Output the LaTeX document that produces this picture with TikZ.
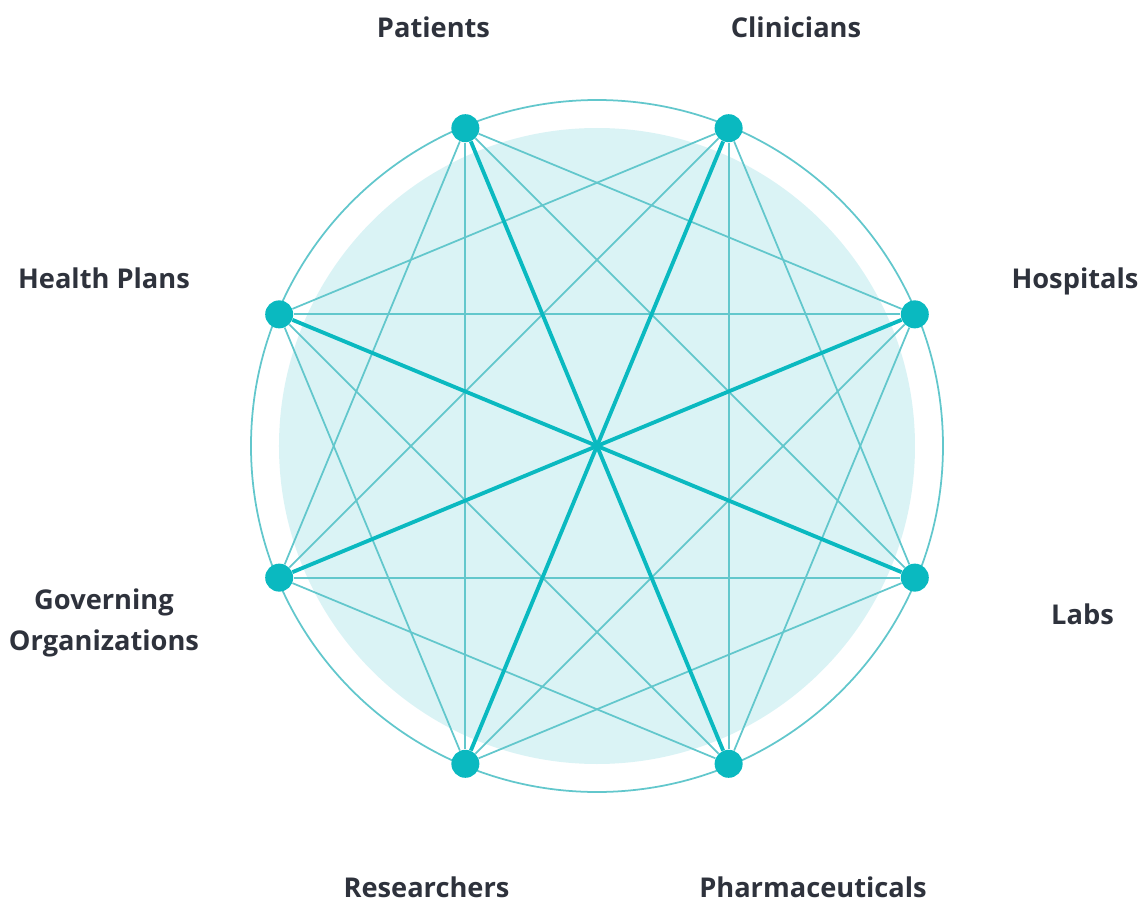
\documentclass[tikz,border=0pt]{standalone}
\usepackage{fontspec}
\newfontfamily\labelfont{Open Sans}
\definecolor{teal}{RGB}{10,185,192}
\definecolor{linkcol}{RGB}{98,199,204}
\definecolor{disc}{RGB}{218,243,245}
\definecolor{ink}{RGB}{46,50,60}
\def\ringrad{6.88cm}
\begin{document}
\begin{tikzpicture}[
    hub/.style={circle,fill=teal,minimum size=0.56cm,inner sep=0},
    link/.style={draw=linkcol,line width=1pt},
    spoke/.style={draw=teal,line width=2.2pt},
    who/.style={font=\labelfont\bfseries\fontsize{15.5}{23.3}\selectfont,text=ink,anchor=base,inner sep=0,align=center}
  ]
  \useasboundingbox (-11.94,-9.14) rectangle (10.82,8.92);

  % Background disc and outer ring
  \fill[disc] (0,0) circle[radius=6.36cm];
  \draw[linkcol,line width=1pt] (0,0) circle[radius=6.92cm];

  % Stakeholder nodes on the ring
  \foreach \i in {0,...,7}
    \node[hub] (n\i) at ({22.5+45*\i}:\ringrad) {};

  % Connect every node with the nodes two and three steps away
  \foreach \i in {0,...,7}
    \foreach \s in {2,3} {
      \pgfmathtruncatemacro\j{mod(\i+\s,8)}
      \path[link] (n\i) edge (n\j);
    }

  % Connect opposite nodes through the centre
  \foreach \i in {0,...,3} {
    \pgfmathtruncatemacro\j{\i+4}
    \path[spoke] (n\i) -- (n\j);
  }

  % Labels
  \node[who] (hospitals) at (9.56,3.16) {Hospitals};
  \node[who] (clinicians) at (3.98,8.16) {Clinicians};
  \node[who] (patients) at (-3.27,8.16) {Patients};
  \node[who] (healthplans) at (-9.86,3.16) {Health Plans};
  \node[who] (governing) at (-9.86,-4.08) {Governing\\Organizations};
  \node[who] (researchers) at (-3.41,-9.03) {Researchers};
  \node[who] (pharma) at (4.32,-9.03) {Pharmaceuticals};
  \node[who] (labs) at (9.71,-3.56) {Labs};
\end{tikzpicture}
\end{document}
